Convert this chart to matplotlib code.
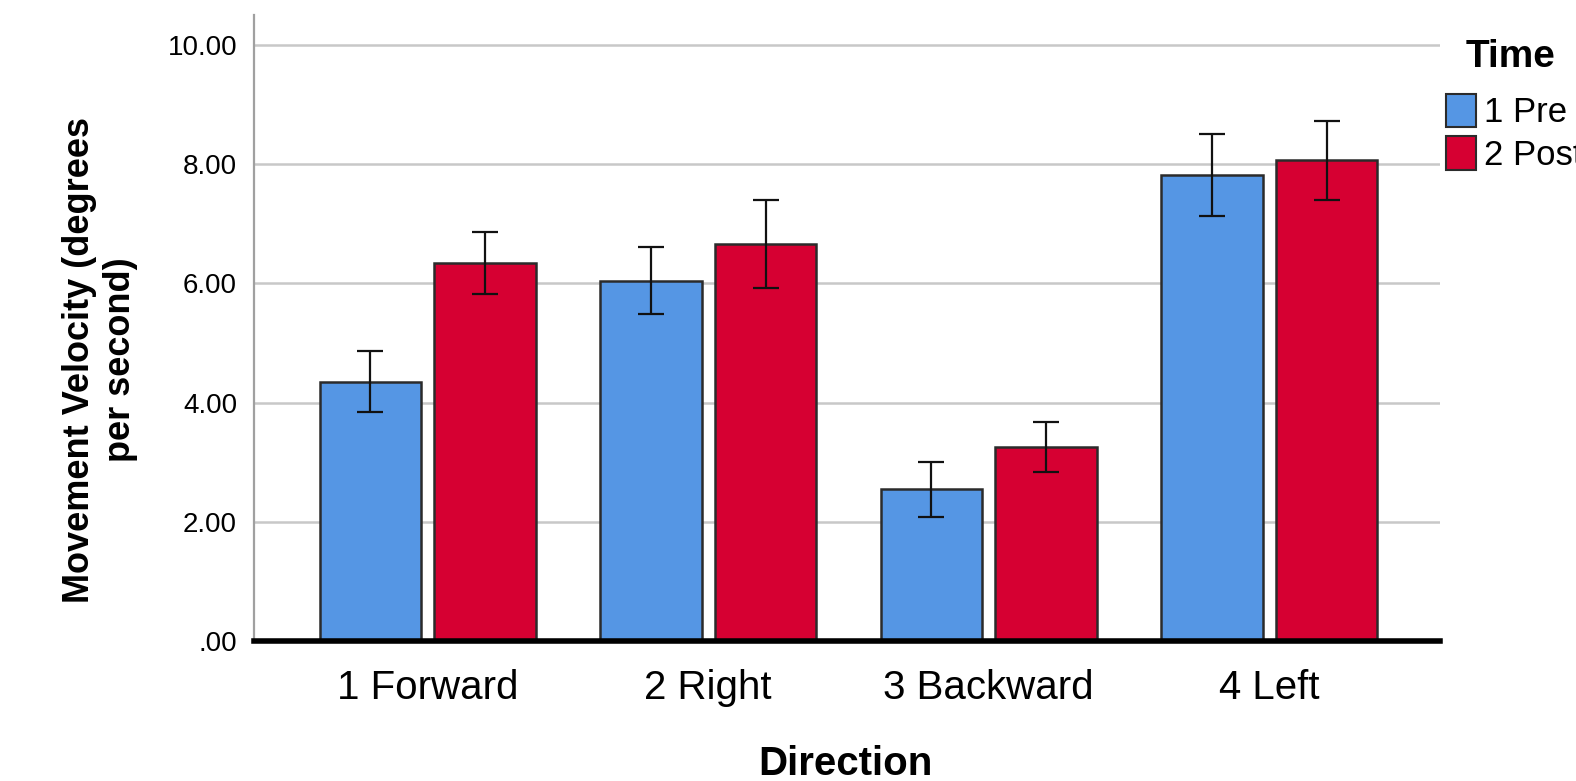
import matplotlib.pyplot as plt
import numpy as np
from matplotlib.patches import Patch

plt.rcParams["font.family"] = ["Liberation Sans", "DejaVu Sans"]

directions = ["1 Forward", "2 Right", "3 Backward", "4 Left"]
series = ["1 Pre", "2 Post"]
pre_mean = [4.35, 6.04, 2.55, 7.81]
pre_low = [3.85, 5.48, 2.09, 7.13]
pre_high = [4.86, 6.61, 3.00, 8.50]
post_mean = [6.34, 6.66, 3.25, 8.06]
post_low = [5.82, 5.92, 2.83, 7.39]
post_high = [6.86, 7.39, 3.68, 8.72]
yticks = [0, 2, 4, 6, 8, 10]
ytick_labels = [".00", "2.00", "4.00", "6.00", "8.00", "10.00"]
colors = ["#5596E4", "#D60032"]

fig = plt.figure(figsize=(15.76, 7.81), dpi=100)
ax = fig.add_axes([0.161, 0.179, 0.753, 0.802])

x = np.arange(len(directions))
offset = 0.2043
width = 0.362
groups = [(pre_mean, pre_low, pre_high), (post_mean, post_low, post_high)]
for i, (mean, low, high) in enumerate(groups):
    pos = x + (i * 2 - 1) * offset
    mean = np.array(mean)
    err = [mean - np.array(low), np.array(high) - mean]
    ax.bar(pos, mean, width, color=colors[i], edgecolor="#2b2b2b", linewidth=1.8, zorder=3)
    ax.errorbar(pos, mean, yerr=err, fmt="none", ecolor="#111111", elinewidth=1.6,
                capsize=9.7, capthick=1.6, zorder=4)

ax.set_xlim(-0.62, 3.61)
ax.set_ylim(0, 10.5)
ax.set_yticks(yticks)
ax.set_yticklabels(ytick_labels, fontsize=20)
ax.set_xticks(x)
ax.set_xticklabels(directions, fontsize=29)
ax.tick_params(axis="both", length=0)
ax.tick_params(axis="y", pad=12)
ax.tick_params(axis="x", pad=20)
ax.yaxis.grid(True, color="#c8c8c8", linewidth=1.8, zorder=0)
ax.set_axisbelow(True)

for s in ["top", "right"]:
    ax.spines[s].set_visible(False)
ax.spines["left"].set_color("#a0a0a0")
ax.spines["left"].set_linewidth(1.6)
ax.spines["bottom"].set_color("black")
ax.spines["bottom"].set_linewidth(4)
ax.spines["bottom"].set_zorder(5)

fig.text(100 / 1576, 1 - 360 / 781, "Movement Velocity (degrees\nper second)",
         fontsize=26, fontweight="bold", rotation=90, ha="center", va="center",
         linespacing=1.25, multialignment="center")
fig.text(845 / 1576, 1 - 764 / 781, "Direction", fontsize=29, fontweight="bold",
         ha="center", va="center")

fig.text(1466 / 1576, 1 - 57 / 781, "Time", fontsize=28, fontweight="bold",
         ha="left", va="center")
handles = [Patch(facecolor=colors[i], edgecolor="#2b2b2b", linewidth=1.5, label=series[i])
           for i in range(2)]
fig.legend(handles=handles, loc="upper left", bbox_to_anchor=(1446 / 1576, 1 - 94 / 781),
           frameon=False, fontsize=25, handlelength=0.85, handleheight=1.1,
           handletextpad=0.25, labelspacing=0.2, borderaxespad=0, borderpad=0)

plt.savefig("out.png", dpi=100)
plt.close()
